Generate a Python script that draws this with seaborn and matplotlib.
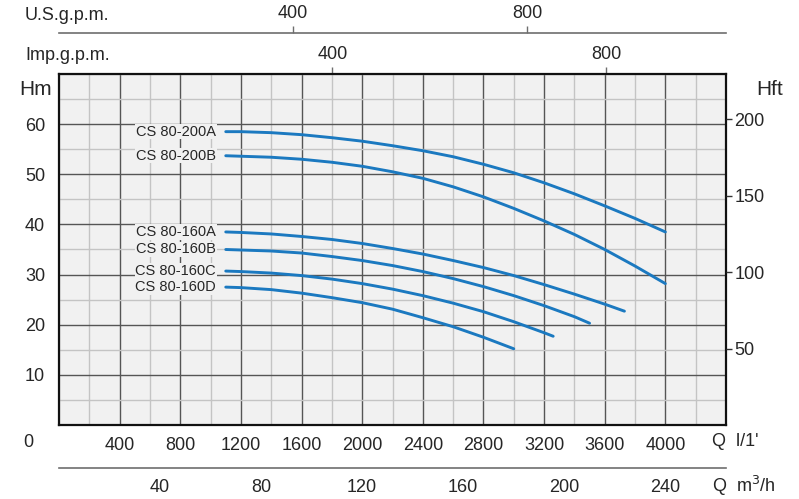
import matplotlib
matplotlib.use("Agg")
import matplotlib.pyplot as plt
from matplotlib.ticker import MultipleLocator
import pandas as pd
import seaborn as sns

# Pump curves: flow Q in l/min, head H in m
pumps = ["CS 80-200A", "CS 80-200B", "CS 80-160A", "CS 80-160B", "CS 80-160C", "CS 80-160D"]
q_200a = [1100, 1200, 1400, 1600, 1800, 2000, 2200, 2400, 2600, 2800, 3000, 3200, 3400, 3600, 3800, 4000]
h_200a = [58.5, 58.5, 58.3, 57.9, 57.3, 56.6, 55.7, 54.7, 53.5, 52.0, 50.3, 48.3, 46.1, 43.7, 41.2, 38.5]
q_200b = [1100, 1200, 1400, 1600, 1800, 2000, 2200, 2400, 2600, 2800, 3000, 3200, 3400, 3600, 3800, 4000]
h_200b = [53.7, 53.6, 53.4, 53.0, 52.4, 51.6, 50.5, 49.2, 47.5, 45.5, 43.2, 40.7, 38.0, 35.0, 31.7, 28.2]
q_160a = [1100, 1200, 1400, 1600, 1800, 2000, 2200, 2400, 2600, 2800, 3000, 3200, 3400, 3600, 3730]
h_160a = [38.5, 38.4, 38.1, 37.6, 37.0, 36.2, 35.2, 34.1, 32.8, 31.4, 29.8, 28.0, 26.1, 24.1, 22.7]
q_160b = [1100, 1200, 1400, 1600, 1800, 2000, 2200, 2400, 2600, 2800, 3000, 3200, 3400, 3500]
h_160b = [35.0, 34.9, 34.7, 34.3, 33.6, 32.8, 31.8, 30.6, 29.2, 27.6, 25.8, 23.8, 21.6, 20.3]
q_160c = [1100, 1200, 1400, 1600, 1800, 2000, 2200, 2400, 2600, 2800, 3000, 3200, 3260]
h_160c = [30.7, 30.6, 30.3, 29.8, 29.1, 28.2, 27.1, 25.8, 24.3, 22.6, 20.6, 18.4, 17.7]
q_160d = [1100, 1200, 1400, 1600, 1800, 2000, 2200, 2400, 2600, 2800, 3000]
h_160d = [27.5, 27.4, 27.0, 26.3, 25.4, 24.4, 23.1, 21.4, 19.6, 17.5, 15.2]

lpm_ticks = [400, 800, 1200, 1600, 2000, 2400, 2800, 3200, 3600, 4000]
m3h_ticks = [40, 80, 120, 160, 200, 240]
hm_ticks = [10, 20, 30, 40, 50, 60]
hft_ticks = [50, 100, 150, 200]
us_ticks = [400, 800]
imp_ticks = [400, 800]

# conversion factors as drawn on the sheet
lpm_per_us = 3.86
lpm_per_imp = 4.51
ft_per_m = 3.2808

curves = [(q_200a, h_200a), (q_200b, h_200b), (q_160a, h_160a),
          (q_160b, h_160b), (q_160c, h_160c), (q_160d, h_160d)]
rows = []
for name, (qs, hs) in zip(pumps, curves):
    for q, h in zip(qs, hs):
        rows.append({"pump": name, "q": q, "h": h})
df = pd.DataFrame(rows)

sns.set_style("white")
plt.rcParams["font.family"] = ["Liberation Sans", "DejaVu Sans"]

blue = "#1b79c0"
axis_grey = "#6e6e6e"
fig = plt.figure(figsize=(7.99, 4.99), dpi=100)
W, H = 799, 499
x0, x1, y0, y1 = 59, 726, 74, 425
ax = fig.add_axes([x0 / W, 1 - y1 / H, (x1 - x0) / W, (y1 - y0) / H])
ax.set_facecolor("#f1f1f1")

sns.lineplot(data=df, x="q", y="h", hue="pump", palette=[blue] * 6,
             legend=False, linewidth=2.1, ax=ax, zorder=3)

ax.set_xlim(0, 4400)
ax.set_ylim(0, 70)
ax.xaxis.set_major_locator(MultipleLocator(400))
ax.xaxis.set_minor_locator(MultipleLocator(200))
ax.yaxis.set_major_locator(MultipleLocator(10))
ax.yaxis.set_minor_locator(MultipleLocator(5))
ax.grid(which="major", color="#555555", linewidth=1.0, zorder=1)
ax.grid(which="minor", color="#c4c4c4", linewidth=1.0, zorder=1)
ax.set_axisbelow(True)
for s in ax.spines.values():
    s.set_color("#111111")
    s.set_linewidth(1.6)
ax.set_xticks(lpm_ticks)
ax.set_xticklabels([str(t) for t in lpm_ticks])
ax.set_yticks(hm_ticks)
ax.set_yticklabels([str(t) for t in hm_ticks])
ax.tick_params(axis="both", which="both", length=0, labelsize=13)
ax.tick_params(axis="x", pad=9)
ax.tick_params(axis="y", pad=10)
ax.set_xlabel("")
ax.set_ylabel("")

ax.text(-0.046, -0.05, "0", transform=ax.transAxes, ha="center", va="center", fontsize=13)
ax.text(-0.035, 0.955, "Hm", transform=ax.transAxes, ha="center", va="center", fontsize=15)
fig.text(712 / W, 1 - 441 / H, "Q  l/1'", ha="left", va="center", fontsize=13)

# curve labels
for name, (qs, hs) in zip(pumps, curves):
    ax.annotate(name, (qs[0], hs[0]), xytext=(-7, 0), textcoords="offset points",
                ha="right", va="center", fontsize=10.5,
                bbox=dict(facecolor="#f1f1f1", edgecolor="none", pad=0.5), zorder=4)

# right axis in feet
ax2 = ax.twinx()
ax2.set_ylim(0, 70 * ft_per_m)
ax2.set_yticks(hft_ticks)
ax2.set_yticklabels([str(t) for t in hft_ticks])
ax2.tick_params(axis="y", length=4, width=1, color="#333333", labelsize=13, pad=2)
for s in ax2.spines.values():
    s.set_visible(False)
ax2.grid(False)
ax.text(1.065, 0.955, "Hft", transform=ax.transAxes, ha="center", va="center", fontsize=15)

# Imp. gpm on top of the box
imp = ax.secondary_xaxis("top", functions=(lambda q: q / lpm_per_imp, lambda g: g * lpm_per_imp))
imp.set_xticks(imp_ticks)
imp.set_xticklabels([str(t) for t in imp_ticks])
imp.tick_params(axis="x", length=5, width=1, color=axis_grey, labelsize=13, pad=3)
imp.spines["top"].set_visible(False)
fig.text(25 / W, 1 - 56 / H, "Imp.g.p.m.", ha="left", va="center", fontsize=13)

# U.S. gpm scale
yus = 33
ax_us = fig.add_axes([x0 / W, 1 - yus / H, (x1 - x0) / W, 0.0001])
ax_us.set_xlim(0, 4400 / lpm_per_us)
ax_us.set_yticks([])
for k in ["left", "right", "top"]:
    ax_us.spines[k].set_visible(False)
ax_us.spines["bottom"].set_color(axis_grey)
ax_us.spines["bottom"].set_linewidth(1.2)
ax_us.set_xticks(us_ticks)
ax_us.set_xticklabels([str(t) for t in us_ticks])
ax_us.tick_params(axis="x", top=True, bottom=False, labeltop=True, labelbottom=False,
                  length=5, width=1, color=axis_grey, labelsize=13, pad=3)
ax_us.set_facecolor("none")
fig.text(25 / W, 1 - 15 / H, "U.S.g.p.m.", ha="left", va="center", fontsize=13)

# m3/h scale under the plot
ym3 = 468
ax_m3 = fig.add_axes([x0 / W, 1 - ym3 / H, (x1 - x0) / W, 0.0001])
ax_m3.set_xlim(0, 4400 * 0.06)
ax_m3.set_yticks([])
for k in ["left", "right", "top"]:
    ax_m3.spines[k].set_visible(False)
ax_m3.spines["bottom"].set_color(axis_grey)
ax_m3.spines["bottom"].set_linewidth(1.2)
ax_m3.set_xticks(m3h_ticks)
ax_m3.set_xticklabels([str(t) for t in m3h_ticks])
ax_m3.tick_params(axis="x", length=5, width=1, color=axis_grey, labelsize=13, pad=3)
ax_m3.set_facecolor("none")
fig.text(712 / W, 1 - 486 / H, "Q  m$^3$/h", ha="left", va="center", fontsize=13)

fig.savefig("out.png", dpi=100)
